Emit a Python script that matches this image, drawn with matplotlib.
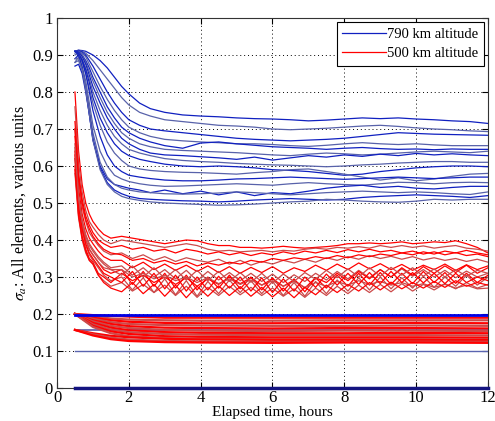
import matplotlib
matplotlib.use("Agg")
import matplotlib.pyplot as plt
from matplotlib.lines import Line2D

plt.rcParams['font.family'] = ['Liberation Serif', 'DejaVu Serif']
plt.rcParams['mathtext.fontset'] = 'stix'

# ---------------- data ----------------
t_blue = [0.5, 0.6, 0.7, 0.8, 0.9, 1.0, 1.2, 1.4, 1.6, 1.8, 2.0, 2.3, 2.6, 3.0, 3.5, 4.0,
          4.5, 5.0, 5.5, 6.0, 6.5, 7.0, 7.5, 8.0, 8.5, 9.0, 9.5, 10.0, 10.5, 11.0, 11.5, 12.0]

blue_upper = [
    [0.91,0.913,0.912,0.91,0.905,0.90,0.885,0.865,0.84,0.815,0.795,0.77,0.755,0.745,0.738,0.735,0.733,0.73,0.728,0.727,0.725,0.722,0.724,0.727,0.73,0.728,0.73,0.727,0.725,0.722,0.72,0.715],
    [0.91,0.913,0.91,0.905,0.895,0.885,0.86,0.835,0.81,0.785,0.765,0.745,0.735,0.725,0.72,0.715,0.71,0.708,0.705,0.70,0.698,0.70,0.702,0.705,0.708,0.71,0.707,0.703,0.70,0.698,0.695,0.693],
    [0.91,0.912,0.908,0.90,0.885,0.87,0.835,0.80,0.77,0.745,0.725,0.71,0.70,0.695,0.69,0.685,0.68,0.675,0.672,0.67,0.668,0.67,0.672,0.675,0.68,0.685,0.69,0.688,0.686,0.685,0.684,0.683],
    [0.91,0.91,0.905,0.895,0.875,0.855,0.815,0.78,0.75,0.725,0.705,0.69,0.68,0.672,0.668,0.665,0.663,0.66,0.66,0.658,0.655,0.653,0.656,0.66,0.663,0.66,0.658,0.66,0.657,0.655,0.655,0.655],
    [0.91,0.91,0.90,0.885,0.865,0.84,0.80,0.76,0.73,0.705,0.69,0.675,0.665,0.655,0.648,0.662,0.665,0.66,0.656,0.652,0.65,0.648,0.645,0.648,0.65,0.647,0.645,0.646,0.644,0.646,0.645,0.645],
    [0.905,0.91,0.90,0.88,0.855,0.83,0.785,0.745,0.715,0.69,0.675,0.66,0.652,0.645,0.642,0.64,0.638,0.636,0.633,0.63,0.628,0.632,0.635,0.633,0.63,0.632,0.635,0.638,0.64,0.638,0.636,0.64],
    [0.91,0.908,0.895,0.875,0.845,0.815,0.77,0.73,0.70,0.675,0.66,0.645,0.635,0.63,0.628,0.625,0.622,0.618,0.624,0.616,0.622,0.628,0.624,0.63,0.626,0.632,0.628,0.634,0.63,0.633,0.63,0.628],
    [0.90,0.905,0.89,0.865,0.835,0.80,0.75,0.71,0.68,0.66,0.645,0.635,0.628,0.62,0.615,0.612,0.61,0.607,0.605,0.603,0.602,0.60,0.598,0.60,0.603,0.605,0.608,0.61,0.612,0.612,0.61,0.61],
    [0.89,0.90,0.885,0.86,0.825,0.785,0.73,0.69,0.66,0.64,0.628,0.618,0.612,0.605,0.60,0.598,0.60,0.598,0.595,0.59,0.588,0.585,0.58,0.575,0.578,0.585,0.59,0.595,0.598,0.60,0.60,0.598],
    [0.88,0.895,0.88,0.85,0.81,0.77,0.71,0.665,0.635,0.615,0.60,0.592,0.588,0.585,0.583,0.582,0.58,0.578,0.582,0.585,0.59,0.592,0.585,0.578,0.57,0.562,0.568,0.56,0.565,0.572,0.578,0.58],
    [0.91,0.905,0.885,0.85,0.80,0.75,0.68,0.63,0.60,0.585,0.575,0.57,0.566,0.562,0.56,0.56,0.562,0.565,0.566,0.568,0.57,0.568,0.566,0.564,0.566,0.568,0.57,0.568,0.566,0.568,0.57,0.57],
    [0.91,0.90,0.87,0.83,0.77,0.71,0.64,0.60,0.575,0.565,0.558,0.552,0.548,0.545,0.546,0.548,0.55,0.552,0.55,0.548,0.552,0.555,0.552,0.55,0.548,0.552,0.556,0.555,0.552,0.555,0.556,0.555],
    [0.91,0.90,0.865,0.81,0.74,0.67,0.60,0.565,0.55,0.545,0.54,0.535,0.528,0.535,0.525,0.532,0.522,0.53,0.52,0.528,0.525,0.532,0.54,0.545,0.548,0.542,0.545,0.54,0.538,0.542,0.545,0.545],
    [0.88,0.885,0.86,0.815,0.755,0.69,0.61,0.57,0.55,0.54,0.535,0.53,0.528,0.525,0.524,0.525,0.527,0.53,0.528,0.525,0.522,0.525,0.528,0.53,0.532,0.53,0.528,0.53,0.528,0.525,0.523,0.53],
    [0.87,0.875,0.85,0.80,0.74,0.675,0.595,0.555,0.535,0.525,0.518,0.512,0.51,0.508,0.506,0.505,0.503,0.505,0.508,0.51,0.512,0.51,0.508,0.51,0.515,0.518,0.52,0.522,0.52,0.518,0.515,0.52],
    [0.89,0.89,0.86,0.805,0.74,0.67,0.59,0.55,0.53,0.518,0.512,0.507,0.503,0.50,0.498,0.496,0.494,0.495,0.497,0.50,0.503,0.505,0.51,0.508,0.505,0.503,0.502,0.505,0.51,0.508,0.51,0.51],
]

t_red = [0.5, 0.6, 0.7, 0.8, 0.9, 1.0, 1.15, 1.3, 1.5,
         1.8, 2.1, 2.4, 2.7, 3.0, 3.3, 3.6, 3.9, 4.2, 4.5, 4.8, 5.1, 5.4, 5.7, 6.0,
         6.3, 6.6, 6.9, 7.2, 7.5, 7.8, 8.1, 8.4, 8.7, 9.0, 9.3, 9.6, 9.9, 10.2, 10.5,
         10.8, 11.1, 11.4, 11.7, 12.0]

red_upper = [
    [0.80,0.64,0.55,0.50,0.47,0.45,0.43,0.415,0.405,
     0.41,0.405,0.40,0.395,0.39,0.395,0.40,0.398,0.39,0.385,0.385,0.38,0.38,0.378,0.38,0.383,0.38,0.378,0.38,0.382,0.385,0.39,0.39,0.392,0.39,0.392,0.395,0.39,0.392,0.395,0.393,0.398,0.39,0.38,0.365],
    [0.76,0.61,0.53,0.48,0.45,0.435,0.415,0.40,0.39,
     0.40,0.395,0.39,0.385,0.38,0.385,0.39,0.385,0.375,0.37,0.372,0.368,0.37,0.372,0.368,0.372,0.37,0.375,0.378,0.375,0.38,0.378,0.382,0.378,0.385,0.38,0.385,0.38,0.384,0.378,0.382,0.385,0.378,0.375,0.37],
    [0.72,0.58,0.51,0.465,0.44,0.42,0.40,0.39,0.38,
     0.385,0.375,0.38,0.37,0.375,0.365,0.375,0.37,0.362,0.368,0.36,0.366,0.358,0.365,0.36,0.368,0.362,0.37,0.365,0.372,0.366,0.374,0.368,0.375,0.368,0.372,0.365,0.37,0.362,0.368,0.36,0.366,0.358,0.362,0.355],
    [0.70,0.56,0.49,0.45,0.42,0.405,0.385,0.37,0.36,
     0.365,0.35,0.36,0.345,0.355,0.342,0.352,0.345,0.34,0.348,0.335,0.345,0.332,0.342,0.335,0.345,0.338,0.348,0.34,0.352,0.345,0.355,0.348,0.358,0.35,0.356,0.348,0.355,0.346,0.352,0.345,0.35,0.342,0.348,0.34],
    [0.68,0.54,0.47,0.43,0.405,0.39,0.37,0.355,0.345,
     0.345,0.325,0.34,0.32,0.335,0.318,0.332,0.315,0.33,0.312,0.328,0.31,0.326,0.312,0.328,0.31,0.325,0.315,0.332,0.318,0.335,0.32,0.338,0.322,0.336,0.32,0.334,0.318,0.332,0.32,0.335,0.318,0.333,0.32,0.33],
    [0.66,0.52,0.455,0.415,0.39,0.375,0.355,0.34,0.325,
     0.33,0.305,0.325,0.30,0.32,0.295,0.318,0.29,0.315,0.292,0.312,0.29,0.31,0.288,0.308,0.285,0.306,0.288,0.31,0.292,0.315,0.295,0.318,0.298,0.32,0.30,0.322,0.302,0.32,0.30,0.318,0.298,0.316,0.30,0.31],
    [0.64,0.50,0.44,0.40,0.375,0.36,0.34,0.32,0.31,
     0.32,0.28,0.315,0.275,0.31,0.27,0.305,0.265,0.30,0.27,0.305,0.268,0.30,0.265,0.298,0.262,0.295,0.26,0.298,0.27,0.305,0.275,0.31,0.278,0.312,0.28,0.31,0.282,0.315,0.285,0.312,0.283,0.31,0.285,0.305],
    [0.62,0.48,0.425,0.385,0.36,0.345,0.325,0.305,0.29,
     0.30,0.265,0.298,0.258,0.295,0.252,0.29,0.248,0.288,0.255,0.292,0.258,0.29,0.255,0.288,0.25,0.285,0.248,0.288,0.255,0.292,0.262,0.298,0.265,0.30,0.268,0.298,0.27,0.302,0.272,0.30,0.275,0.305,0.278,0.30],
    [0.60,0.47,0.41,0.375,0.35,0.34,0.31,0.30,0.285,
     0.31,0.29,0.305,0.285,0.30,0.28,0.298,0.275,0.295,0.28,0.30,0.282,0.298,0.278,0.295,0.275,0.292,0.27,0.298,0.285,0.31,0.29,0.315,0.295,0.32,0.30,0.325,0.305,0.328,0.31,0.33,0.312,0.332,0.31,0.325],
    [0.58,0.46,0.40,0.365,0.345,0.335,0.305,0.29,0.275,
     0.285,0.262,0.28,0.258,0.278,0.25,0.275,0.245,0.272,0.25,0.275,0.252,0.272,0.25,0.27,0.248,0.268,0.245,0.27,0.25,0.275,0.255,0.278,0.258,0.28,0.26,0.282,0.262,0.28,0.265,0.282,0.268,0.285,0.27,0.28],
    [0.70,0.57,0.50,0.455,0.43,0.41,0.39,0.375,0.365,
     0.36,0.345,0.35,0.338,0.345,0.335,0.342,0.33,0.338,0.332,0.34,0.335,0.345,0.34,0.35,0.345,0.352,0.348,0.355,0.35,0.358,0.352,0.36,0.355,0.362,0.358,0.365,0.36,0.368,0.362,0.37,0.365,0.372,0.365,0.36],
    [0.62,0.50,0.44,0.40,0.375,0.36,0.34,0.325,0.32,
     0.32,0.30,0.31,0.295,0.305,0.29,0.30,0.285,0.298,0.282,0.295,0.28,0.292,0.278,0.29,0.275,0.288,0.272,0.285,0.275,0.288,0.278,0.29,0.28,0.288,0.278,0.285,0.275,0.282,0.272,0.28,0.27,0.278,0.268,0.27],
    [0.63,0.49,0.43,0.39,0.365,0.35,0.33,0.31,0.30,
     0.285,0.315,0.275,0.31,0.268,0.305,0.262,0.30,0.265,0.302,0.27,0.30,0.262,0.298,0.258,0.295,0.262,0.30,0.272,0.308,0.278,0.31,0.28,0.312,0.282,0.315,0.285,0.312,0.284,0.31,0.282,0.31,0.285,0.30,0.29],
    [0.65,0.51,0.45,0.41,0.385,0.37,0.35,0.335,0.32,
     0.305,0.33,0.30,0.325,0.296,0.32,0.292,0.318,0.29,0.315,0.288,0.312,0.286,0.31,0.284,0.308,0.288,0.312,0.294,0.318,0.298,0.322,0.30,0.325,0.302,0.326,0.305,0.325,0.302,0.322,0.30,0.32,0.302,0.318,0.31],
    [0.59,0.465,0.405,0.37,0.345,0.335,0.305,0.285,0.27,
     0.26,0.285,0.255,0.28,0.248,0.278,0.244,0.275,0.248,0.276,0.25,0.274,0.248,0.272,0.246,0.27,0.244,0.272,0.252,0.278,0.258,0.28,0.262,0.285,0.265,0.286,0.268,0.285,0.27,0.288,0.272,0.29,0.275,0.285,0.278],
]

t_low = [0.5, 1.0, 1.5, 2.0, 3.0, 4.0, 6.0, 8.0, 10.0, 12.0]
red_lower = [
    [0.20,0.197,0.195,0.193,0.19,0.19,0.19,0.19,0.19,0.19],
    [0.20,0.193,0.188,0.185,0.183,0.182,0.182,0.183,0.183,0.183],
    [0.20,0.19,0.183,0.179,0.176,0.175,0.175,0.176,0.176,0.175],
    [0.20,0.187,0.178,0.173,0.17,0.169,0.168,0.168,0.169,0.168],
    [0.20,0.183,0.173,0.167,0.163,0.162,0.161,0.162,0.162,0.161],
    [0.20,0.18,0.168,0.162,0.157,0.155,0.154,0.155,0.155,0.154],
    [0.20,0.176,0.163,0.156,0.151,0.149,0.148,0.148,0.149,0.148],
    [0.20,0.172,0.158,0.151,0.146,0.144,0.143,0.143,0.143,0.142],
    [0.20,0.168,0.153,0.146,0.14,0.138,0.137,0.137,0.137,0.136],
    [0.20,0.165,0.148,0.14,0.135,0.133,0.132,0.132,0.132,0.131],
    [0.157,0.148,0.141,0.137,0.133,0.131,0.13,0.13,0.13,0.13],
    [0.157,0.145,0.136,0.131,0.127,0.126,0.125,0.125,0.125,0.125],
    [0.157,0.142,0.132,0.127,0.124,0.123,0.122,0.123,0.123,0.122],
]

t_flat = [0.5, 12.0]
blue_flat_top = [0.198, 0.198]
blue_flat_mid = [0.157, 0.157]
blue_flat_low = [0.10, 0.10]
blue_flat_zero = [0.0, 0.0]

x_ticks = [0, 2, 4, 6, 8, 10, 12]
y_ticks = [0, 0.1, 0.2, 0.3, 0.4, 0.5, 0.6, 0.7, 0.8, 0.9, 1.0]
y_tick_labels = ['0', '0.1', '0.2', '0.3', '0.4', '0.5', '0.6', '0.7', '0.8', '0.9', '1']
legend_labels = ['790 km altitude', '500 km altitude']

# ---------------- plot ----------------
fig = plt.figure(figsize=(4.95, 4.21), dpi=100)
ax = fig.add_axes([57/495, 33/421, 431/495, 370/421])

blue_cols = ['#1020c0', '#5862aa']
red_cols = ['#ff0000', '#cc4a4a']

ax.plot(t_flat, blue_flat_mid, color='#5a5aa8', lw=1.2, zorder=2)

for i, ys in enumerate(red_lower):
    ax.plot(t_low, ys, color=red_cols[i % 2], lw=1.6, zorder=3)
for i, ys in enumerate(red_upper):
    ax.plot(t_red, ys, color=red_cols[i % 2], lw=0.9, zorder=3)
for i, ys in enumerate(blue_upper):
    ax.plot(t_blue, ys, color=blue_cols[i % 2], lw=0.9, zorder=4)

ax.plot(t_flat, blue_flat_top, color='#0000e6', lw=2.0, zorder=5)
ax.plot(t_flat, blue_flat_low, color='#5a64b0', lw=1.0, zorder=5)
ax.plot(t_flat, blue_flat_zero, color='#141480', lw=2.5, zorder=5, clip_on=False)

ax.set_xlim(0, 12)
ax.set_ylim(0, 1)
ax.set_xticks(x_ticks)
ax.set_yticks(y_ticks)
ax.set_yticklabels(y_tick_labels)
ax.grid(True, color='black', linestyle=(0, (1, 3)), lw=0.7)
ax.tick_params(direction='in', top=True, right=True, labelsize=12, pad=3, length=4)
ax.tick_params(axis='x', pad=1.5)
for s in ax.spines.values():
    s.set_color('#333333')
    s.set_linewidth(0.8)

ax.set_xlabel('Elapsed time, hours', fontsize=11, labelpad=0)
ax.set_ylabel(r'$\sigma_a$: All elements, various units', fontsize=11.5, labelpad=3)

handles = [Line2D([], [], color='#1020c0', lw=0.9), Line2D([], [], color='#ff0000', lw=0.9)]
leg = ax.legend(handles, legend_labels, loc='upper right', fontsize=10.5, handlelength=3.0,
                handletextpad=0.1, borderpad=0.35, labelspacing=0.45, fancybox=False,
                framealpha=1, edgecolor='black', borderaxespad=0.3)
leg.get_frame().set_linewidth(0.8)

fig.savefig('out.png', dpi=100)
